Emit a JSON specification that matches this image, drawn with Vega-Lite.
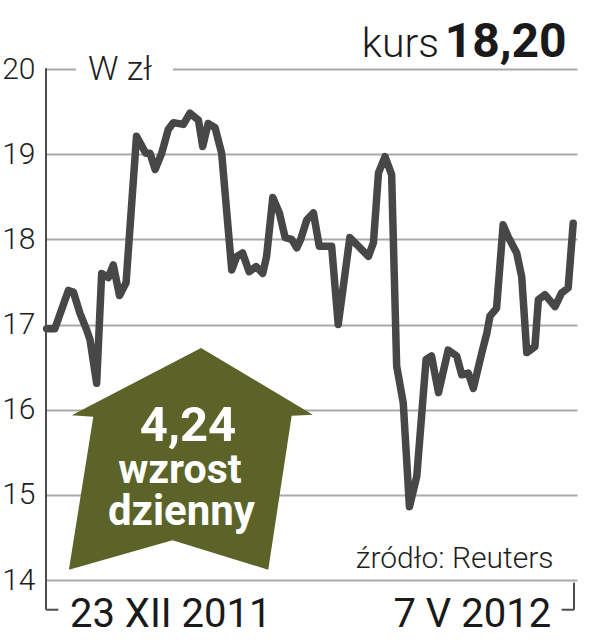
{
  "$schema": "https://vega.github.io/schema/vega-lite/v6.json",
  "width": 531,
  "height": 511,
  "autosize": {"type": "none"},
  "padding": {"left": 46, "top": 69, "right": 33, "bottom": 60},
  "background": "white",
  "config": {"view": {"stroke": null}, "text": {"font": "Roboto"}},
  "datasets": {
    "notowania": [
      {"d": 0, "kurs": 16.95}, {"d": 2.1, "kurs": 16.95}, {"d": 5.6, "kurs": 17.40}, {"d": 6.9, "kurs": 17.38},
      {"d": 8.6, "kurs": 17.13}, {"d": 10.3, "kurs": 16.94}, {"d": 11.2, "kurs": 16.82}, {"d": 12.9, "kurs": 16.31},
      {"d": 14.2, "kurs": 17.60}, {"d": 15.9, "kurs": 17.55}, {"d": 17.2, "kurs": 17.70}, {"d": 18.8, "kurs": 17.34},
      {"d": 20.5, "kurs": 17.49}, {"d": 23.2, "kurs": 19.21}, {"d": 25.6, "kurs": 19.01}, {"d": 26.7, "kurs": 19.01},
      {"d": 28.0, "kurs": 18.82}, {"d": 29.7, "kurs": 19.01}, {"d": 31.4, "kurs": 19.29}, {"d": 32.7, "kurs": 19.37},
      {"d": 35.3, "kurs": 19.35}, {"d": 37.0, "kurs": 19.48}, {"d": 39.2, "kurs": 19.40}, {"d": 40.3, "kurs": 19.09},
      {"d": 41.7, "kurs": 19.36}, {"d": 43.5, "kurs": 19.31}, {"d": 45.2, "kurs": 19.01}, {"d": 47.8, "kurs": 17.64},
      {"d": 49.1, "kurs": 17.80}, {"d": 50.6, "kurs": 17.84}, {"d": 52.3, "kurs": 17.62}, {"d": 54.1, "kurs": 17.68},
      {"d": 55.8, "kurs": 17.60}, {"d": 56.8, "kurs": 17.80}, {"d": 58.4, "kurs": 18.49}, {"d": 60.1, "kurs": 18.31},
      {"d": 61.6, "kurs": 18.02}, {"d": 63.3, "kurs": 18.00}, {"d": 64.6, "kurs": 17.90}, {"d": 65.6, "kurs": 18.00},
      {"d": 67.2, "kurs": 18.23}, {"d": 68.9, "kurs": 18.31}, {"d": 70.4, "kurs": 17.92}, {"d": 73.6, "kurs": 17.92},
      {"d": 75.3, "kurs": 17.00}, {"d": 78.3, "kurs": 18.02}, {"d": 80.5, "kurs": 17.92}, {"d": 83.1, "kurs": 17.80},
      {"d": 84.4, "kurs": 17.96}, {"d": 85.7, "kurs": 18.78}, {"d": 87.4, "kurs": 18.97}, {"d": 89.1, "kurs": 18.76},
      {"d": 90.4, "kurs": 16.51}, {"d": 92.1, "kurs": 16.08}, {"d": 93.7, "kurs": 14.86}, {"d": 95.6, "kurs": 15.22},
      {"d": 98.0, "kurs": 16.59}, {"d": 99.4, "kurs": 16.63}, {"d": 101.2, "kurs": 16.20}, {"d": 103.7, "kurs": 16.70},
      {"d": 105.9, "kurs": 16.63}, {"d": 107.2, "kurs": 16.41}, {"d": 108.9, "kurs": 16.43}, {"d": 110.2, "kurs": 16.25},
      {"d": 112.4, "kurs": 16.67}, {"d": 113.7, "kurs": 16.90}, {"d": 114.5, "kurs": 17.10}, {"d": 116.2, "kurs": 17.19},
      {"d": 117.9, "kurs": 18.17}, {"d": 119.2, "kurs": 18.03}, {"d": 121.4, "kurs": 17.84}, {"d": 122.7, "kurs": 17.56},
      {"d": 124.0, "kurs": 16.67}, {"d": 126.1, "kurs": 16.74}, {"d": 127.0, "kurs": 17.29}, {"d": 128.7, "kurs": 17.35},
      {"d": 131.3, "kurs": 17.21}, {"d": 133.0, "kurs": 17.37}, {"d": 134.7, "kurs": 17.43}, {"d": 136.0, "kurs": 18.19}
    ],
    "jeden": [{}]
  },
  "layer": [
    {"data": {"name": "notowania"},
      "mark": {"type": "line", "color": "#474747", "strokeWidth": 7.5, "strokeJoin": "round", "strokeCap": "round"},
      "encoding": {
        "x": {"field": "d", "type": "quantitative", "scale": {"domain": [-0.18, 136.98], "nice": false, "zero": false}, "axis": null},
        "y": {"field": "kurs", "type": "quantitative", "scale": {"domain": [14, 20], "nice": false, "zero": false},
          "axis": {"values": [14, 15, 16, 17, 18, 19, 20], "format": "d", "title": null, "domain": false, "ticks": false,
            "grid": true, "gridColor": "#a9a9a9", "gridWidth": 2,
            "labelFont": "Roboto", "labelFontWeight": 300, "labelFontSize": 30, "labelColor": "#1e1e1e", "labelPadding": 11}}
      }},
    {"data": {"name": "jeden"}, "mark": {"type": "rect", "fill": "white"}, "encoding": {"x": {"datum": 7.6}, "x2": {"datum": 32.6}, "y": {"datum": 19.96}, "y2": {"datum": 20.04}}},
    {"data": {"name": "jeden"}, "mark": {"type": "rule", "color": "#4d4d4d", "strokeWidth": 2}, "encoding": {"x": {"datum": -0.18}, "y": {"datum": 20.01}, "y2": {"datum": 13.651}}},
    {"data": {"name": "jeden"}, "mark": {"type": "rule", "color": "#4d4d4d", "strokeWidth": 2}, "encoding": {"x": {"datum": -0.18}, "x2": {"datum": 3.0}, "y": {"datum": 13.651}}},
    {"data": {"name": "jeden"}, "mark": {"type": "rule", "color": "#4d4d4d", "strokeWidth": 2}, "encoding": {"x": {"datum": 136.2}, "y": {"datum": 13.969}, "y2": {"datum": 13.651}}},
    {"data": {"name": "jeden"}, "mark": {"type": "rule", "color": "#4d4d4d", "strokeWidth": 2}, "encoding": {"x": {"datum": 133.0}, "x2": {"datum": 136.2}, "y": {"datum": 13.651}}},
    {"data": {"name": "jeden"}, "mark": {"type": "point", "filled": true, "fill": "#5b6329", "fillOpacity": 1, "strokeWidth": 0, "size": 59536,
      "shape": "M0.083,-0.909L1,-0.362L0.826,-0.354L0.634,0.908L-0.151,0.666L-1,0.908L-0.8,-0.346L-0.977,-0.358Z"},
      "encoding": {"x": {"datum": 37.25}, "y": {"datum": 15.422}}},
    {"data": {"name": "jeden"}, "mark": {"type": "text", "text": "4,24", "color": "white", "fontSize": 49, "fontWeight": "bold", "align": "center", "baseline": "alphabetic"},
      "encoding": {"x": {"datum": 36.5}, "y": {"datum": 15.628}}},
    {"data": {"name": "jeden"}, "mark": {"type": "text", "text": "wzrost", "color": "white", "fontSize": 41, "fontWeight": "bold", "align": "center", "baseline": "alphabetic"},
      "encoding": {"x": {"datum": 34.4}, "y": {"datum": 15.143}}},
    {"data": {"name": "jeden"}, "mark": {"type": "text", "text": "dzienny", "color": "white", "fontSize": 42, "fontWeight": "bold", "align": "center", "baseline": "alphabetic"},
      "encoding": {"x": {"datum": 34.8}, "y": {"datum": 14.65}}},
    {"data": {"name": "jeden"}, "mark": {"type": "text", "text": "W zł", "color": "#1e1e1e", "fontSize": 34, "fontWeight": 300, "align": "left", "baseline": "alphabetic"},
      "encoding": {"x": {"datum": 10.67}, "y": {"datum": 19.874}}},
    {"data": {"name": "jeden"}, "mark": {"type": "text", "text": "kurs", "color": "#1a1a1a", "fontSize": 41, "fontWeight": 300, "align": "left", "baseline": "alphabetic"},
      "encoding": {"x": {"datum": 81.4}, "y": {"datum": 20.139}}},
    {"data": {"name": "jeden"}, "mark": {"type": "text", "text": "18,20", "color": "#1a1a1a", "fontSize": 48, "fontWeight": "bold", "align": "right", "baseline": "alphabetic"},
      "encoding": {"x": {"datum": 134.3}, "y": {"datum": 20.139}}},
    {"data": {"name": "jeden"}, "mark": {"type": "text", "text": "źródło: Reuters", "color": "#1e1e1e", "fontSize": 30, "fontWeight": 300, "align": "right", "baseline": "alphabetic"},
      "encoding": {"x": {"datum": 130.9}, "y": {"datum": 14.141}}},
    {"data": {"name": "jeden"}, "mark": {"type": "text", "text": "23 XII 2011", "color": "#1a1a1a", "fontSize": 40, "fontWeight": 400, "align": "left", "baseline": "alphabetic"},
      "encoding": {"x": {"datum": 6.0}, "y": {"datum": 13.452}}},
    {"data": {"name": "jeden"}, "mark": {"type": "text", "text": "7 V 2012", "color": "#1a1a1a", "fontSize": 40, "fontWeight": 400, "align": "right", "baseline": "alphabetic"},
      "encoding": {"x": {"datum": 130.3}, "y": {"datum": 13.452}}}
  ]
}
